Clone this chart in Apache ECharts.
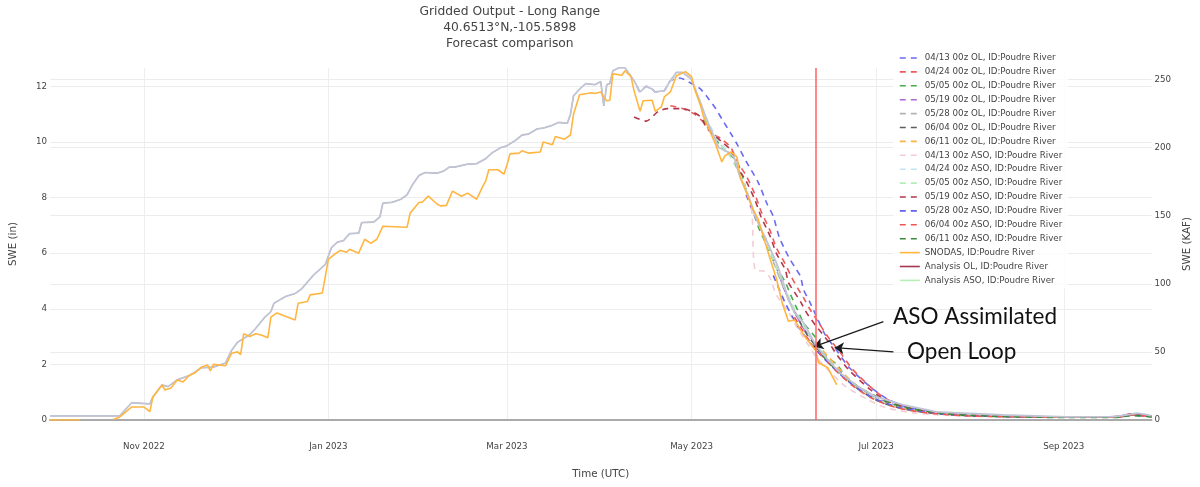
<!DOCTYPE html>
<html>
<head>
<meta charset="utf-8">
<script src="https://cdn.jsdelivr.net/npm/echarts@6/dist/echarts.min.js"></script>
<style>
  html, body { margin: 0; padding: 0; background: #fff; }
  #chart { width: 1200px; height: 487px; }
</style>
</head>
<body>
<div id="chart"></div>
<script>
// Water year 2023 snow water equivalent, Poudre River basin.
// Every series is a list of [day of water year (0 = 2022-10-01), SWE in inches].
const WY_START = Date.UTC(2022, 9, 1);
const DAY_MS = 86400000;

const xTickDates = ['2022-11-01', '2023-01-01', '2023-03-01', '2023-05-01', '2023-07-01', '2023-09-01'];
const monthNames = ['Jan','Feb','Mar','Apr','May','Jun','Jul','Aug','Sep','Oct','Nov','Dec'];
const currentDay = 253;      // 2023-06-11
const assimilationDay = 193; // open loop and ASO runs share history up to here

const snodas = [[0,0],[10,0],[11,null],[21,0.03],[23,0.1],[27,0.47],[31,0.47],[33,0.3],[34,0.83],[37,1.26],[38,1.08],[40,1.15],[42,1.44],[44,1.37],[46,1.6],[48,1.7],[50,1.9],[52,1.98],[53,1.77],[54,2.0],[58,1.95],[60,2.4],[62,2.45],[63,2.35],[64,3.1],[66,3.0],[68,3.1],[70,3.05],[72,2.96],[73,3.7],[75,3.85],[81,3.6],[82,4.2],[85,4.26],[86,4.5],[90,4.57],[92,5.78],[94,5.96],[96,6.1],[98,6.03],[99,6.14],[102,6.0],[104,6.5],[106,6.35],[108,6.5],[110,6.97],[118,6.93],[119,7.44],[122,7.83],[123,7.83],[125,8.05],[128,7.76],[129,7.7],[131,7.72],[133,8.23],[136,8.05],[138,8.16],[141,7.94],[143,8.4],[144,8.6],[145,9.0],[148,9.0],[150,8.84],[151,9.17],[152,9.57],[155,9.6],[156,9.68],[158,9.6],[162,9.64],[163,10.0],[166,9.9],[167,10.2],[170,10.1],[172,10.25],[173,11.0],[175,11.7],[179,11.77],[180,11.74],[182,11.8],[183,11.6],[184,11.48],[185,11.5],[186,12.45],[189,12.4],[190,12.56],[192,12.35],[193,11.84],[195,11.1],[196,11.48],[199,11.5],[200,11.1],[202,11.26],[203,11.62],[205,11.8],[207,12.38],[210,12.53],[212,12.35],[213,11.9],[215,11.3],[216,10.9],[218,10.4],[220,9.9],[222,9.28],[223,9.5],[225,9.64],[227,9.46],[228,8.77],[231,7.94],[232,7.65],[234,7.22],[236,6.5],[238,5.78],[240,5.1],[242,4.2],[244,3.55],[246,3.6],[249,3.07],[253,2.5],[254,2.06],[257,1.88],[260,1.26]];

const analysisAso = [[0,0.15],[23,0.15],[27,0.62],[33,0.58],[34,0.83],[37,1.26],[39,1.2],[42,1.44],[46,1.6],[48,1.73],[50,1.88],[54,1.9],[58,2.05],[60,2.5],[62,2.8],[66,3.07],[68,3.3],[71,3.7],[73,3.9],[74,4.2],[78,4.45],[81,4.55],[83,4.7],[85,4.95],[87,5.2],[90,5.5],[91,5.6],[93,6.2],[95,6.4],[97,6.45],[99,6.7],[102,6.72],[103,7.1],[107,7.12],[109,7.3],[110,7.8],[113,7.83],[116,7.94],[118,8.1],[120,8.5],[122,8.8],[124,8.9],[128,8.88],[130,8.95],[132,9.1],[134,9.1],[138,9.2],[141,9.22],[144,9.4],[146,9.6],[149,9.8],[151,9.86],[154,10.07],[156,10.25],[158,10.28],[161,10.47],[163,10.5],[166,10.6],[168,10.7],[171,10.68],[172,11.0],[173,11.66],[175,11.9],[177,12.1],[180,12.06],[182,12.17],[183,11.3],[184,12.06],[185,12.1],[186,12.56],[188,12.67],[190,12.67],[193,12.2],[195,11.8],[197,12.0],[199,11.9],[200,11.8],[203,11.85],[205,12.2],[207,12.5],[209,12.5],[212,12.25],[213,11.95],[215,11.4],[217,10.8],[221,9.8],[224,9.64],[226,9.46],[228,8.74],[231,8.0],[233,7.33],[235,6.86],[237,6.4],[240,5.67],[242,5.05],[244,4.33],[246,3.86],[249,3.5],[253,2.7],[257,2.17],[261,1.7],[267,1.2],[273,0.83],[282,0.54],[293,0.29],[315,0.18],[336,0.11],[352,0.12],[357,0.2],[359,0.25],[362,0.2],[364,0.15]];

// The open-loop analysis is identical to the ASO analysis until assimilation
const analysisOl = analysisAso.filter(([d]) => d <= assimilationDay);

// Open-loop forecasts
const ol0413 = [[194,12.0],[195,11.8],[197,12.0],[199,11.9],[200,11.8],[203,11.85],[205,12.2],[208,12.3],[212,12.1],[215,11.9],[218,11.5],[220,11.2],[222,10.83],[225,10.3],[227,9.93],[230,9.31],[234,8.55],[237,7.76],[239,7.33],[241,6.57],[244,5.88],[246,5.52],[248,5.16],[249,4.69],[251,4.26],[253,3.79],[256,3.1],[260,2.5],[264,1.9],[271,1.2],[276,0.8],[282,0.5],[291,0.3],[304,0.18],[336,0.11],[352,0.12],[358,0.22],[364,0.14]];
const ol0424 = [[205,11.3],[209,11.2],[213,11.0],[216,10.7],[219,10.3],[222,10.1],[225,9.8],[227,9.3],[230,8.8],[233,8.1],[235,7.5],[238,6.8],[240,6.2],[243,5.6],[245,5.15],[247,4.75],[249,4.4],[251,4.0],[254,3.5],[257,3.0],[261,2.45],[265,1.85],[271,1.2],[276,0.78],[282,0.5],[291,0.3],[304,0.18],[336,0.11],[352,0.12],[358,0.23],[364,0.14]];
const ol0505 = [[216,10.8],[222,9.8],[227,9.3],[230,8.3],[234,6.97],[237,6.25],[240,5.5],[243,4.95],[245,4.44],[247,3.97],[249,3.5],[253,2.96],[256,2.35],[260,2.0],[263,1.55],[267,1.2],[272,0.9],[276,0.65],[282,0.43],[288,0.3],[299,0.18],[336,0.1],[352,0.11],[358,0.2],[364,0.13]];
const ol0519 = [[230,8.1],[233,7.3],[237,6.4],[240,5.5],[243,4.6],[246,3.9],[249,3.3],[253,2.75],[257,2.2],[262,1.65],[268,1.1],[275,0.7],[282,0.45],[292,0.27],[310,0.16],[336,0.1],[352,0.11],[358,0.2],[364,0.13]];
const ol0528 = [[239,5.7],[243,4.6],[248,3.5],[253,2.7],[259,1.9],[265,1.3],[272,0.8],[279,0.5],[289,0.28],[305,0.15],[336,0.1],[352,0.11],[358,0.19],[364,0.12]];
const ol0604 = [[246,3.9],[250,3.1],[255,2.4],[260,1.8],[266,1.2],[273,0.72],[280,0.45],[290,0.26],[305,0.15],[336,0.1],[352,0.1],[358,0.18],[364,0.12]];
const ol0611 = [[253,2.8],[257,2.3],[262,1.7],[267,1.2],[273,0.75],[280,0.45],[290,0.26],[305,0.15],[336,0.1],[352,0.1],[358,0.18],[364,0.12]];

// ASO-assimilated forecasts
const aso0413 = [[194,12.0],[195,11.8],[197,12.0],[199,11.9],[200,11.8],[203,11.85],[205,12.2],[207,12.5],[209,12.5],[212,12.25],[213,11.95],[215,11.4],[217,10.8],[221,9.8],[224,9.64],[226,9.46],[228,8.74],[231,8.0],[232,7.4],[233,5.4],[236,5.35],[238,5.1],[240,4.5],[244,3.9],[247,3.3],[250,2.8],[253,2.3],[258,1.7],[263,1.2],[270,0.75],[276,0.45],[286,0.25],[303,0.14],[336,0.1],[352,0.1],[358,0.18],[364,0.12]];
const aso0424 = [[205,12.2],[209,12.5],[212,12.25],[215,11.4],[218,10.6],[222,9.9],[226,9.5],[229,8.6],[232,7.7],[235,6.9],[238,6.1],[241,5.3],[244,4.4],[247,3.75],[250,3.2],[254,2.6],[258,2.05],[263,1.5],[269,1.0],[276,0.62],[284,0.38],[295,0.22],[315,0.14],[336,0.1],[352,0.11],[358,0.19],[364,0.13]];
const aso0505 = [[216,10.9],[220,10.1],[224,9.6],[228,8.8],[231,8.0],[234,7.1],[237,6.3],[240,5.5],[243,4.7],[246,4.0],[249,3.4],[253,2.75],[257,2.2],[262,1.6],[268,1.05],[275,0.65],[283,0.4],[294,0.23],[315,0.14],[336,0.1],[352,0.11],[358,0.19],[364,0.13]];
const aso0519 = [[193,10.9],[197,10.75],[201,11.1],[204,11.2],[209,11.2],[212,11.1],[215,10.9],[217,10.5],[220,10.2],[222,10.0],[225,9.7],[227,9.1],[230,8.6],[233,7.9],[235,7.3],[238,6.6],[240,6.0],[243,5.4],[244,4.95],[246,4.6],[248,4.26],[250,3.86],[253,3.4],[257,2.85],[260,2.35],[264,1.8],[271,1.1],[276,0.72],[282,0.47],[291,0.28],[304,0.17],[336,0.11],[352,0.12],[358,0.22],[364,0.14]];
const aso0528 = [[239,5.2],[243,4.2],[247,3.4],[251,2.8],[255,2.3],[260,1.75],[266,1.2],[272,0.8],[280,0.47],[290,0.27],[305,0.15],[336,0.1],[352,0.1],[358,0.18],[364,0.12]];
const aso0604 = [[246,3.7],[250,3.0],[254,2.45],[259,1.85],[265,1.25],[271,0.82],[278,0.5],[288,0.28],[303,0.15],[336,0.1],[352,0.1],[358,0.18],[364,0.12]];
const aso0611 = [[253,2.65],[257,2.1],[262,1.6],[267,1.2],[272,0.9],[278,0.6],[285,0.4],[294,0.25],[305,0.16],[336,0.09],[352,0.09],[358,0.16],[364,0.11]];

// Annotation arrows: [tail, head] in [day, SWE]
const asoArrow = [[275.4, 3.54], [252.5, 2.64]];
const olArrow  = [[278.7, 2.45], [259.3, 2.6]];

const FONT = 'DejaVu Sans';
const toTime = d => WY_START + d * DAY_MS;
const toPoints = rows => rows.map(([d, v]) => [toTime(d), v]);
const tickTimes = xTickDates.map(s => Date.parse(s + 'T00:00:00Z'));

const DASH = [6, 5];
function forecast(name, rows, color) {
  return {
    name, type: 'line', data: toPoints(rows), symbol: 'none', smooth: 0.25,
    lineStyle: { color, width: 1.6, type: DASH }, itemStyle: { color },
    emphasis: { disabled: true }
  };
}

const series = [
  forecast('04/13 00z OL, ID:Poudre River', ol0413, '#6b6bf2'),
  forecast('04/24 00z OL, ID:Poudre River', ol0424, '#ef5a5a'),
  forecast('05/05 00z OL, ID:Poudre River', ol0505, '#4cab4c'),
  forecast('05/19 00z OL, ID:Poudre River', ol0519, '#b066d6'),
  forecast('05/28 00z OL, ID:Poudre River', ol0528, '#b4b4b4'),
  forecast('06/04 00z OL, ID:Poudre River', ol0604, '#5e5e5e'),
  forecast('06/11 00z OL, ID:Poudre River', ol0611, '#ffb347'),
  forecast('04/13 00z ASO, ID:Poudre River', aso0413, '#f3cdd4'),
  forecast('04/24 00z ASO, ID:Poudre River', aso0424, '#c4e4f3'),
  forecast('05/05 00z ASO, ID:Poudre River', aso0505, '#b6eeb6'),
  forecast('05/19 00z ASO, ID:Poudre River', aso0519, '#b3384c'),
  forecast('05/28 00z ASO, ID:Poudre River', aso0528, '#6161f0'),
  forecast('06/04 00z ASO, ID:Poudre River', aso0604, '#f05555'),
  forecast('06/11 00z ASO, ID:Poudre River', aso0611, '#3c8a3c'),
  {
    name: 'SNODAS, ID:Poudre River', type: 'line', data: toPoints(snodas), symbol: 'none',
    lineStyle: { color: '#ffb640', width: 1.6 }, itemStyle: { color: '#ffb640' }, z: 4,
    emphasis: { disabled: true }
  },
  {
    name: 'Analysis OL, ID:Poudre River', type: 'line', data: toPoints(analysisOl), symbol: 'none',
    lineStyle: { color: '#a3384f', width: 0.8 }, itemStyle: { color: '#a3384f' }, z: 1,
    emphasis: { disabled: true },
    markLine: {
      silent: true, symbol: ['none', 'arrow'], symbolSize: 9, animation: false,
      label: { show: false },
      lineStyle: { color: '#1a1a1a', width: 1.2, type: 'solid' },
      data: [
        [{ coord: [toTime(asoArrow[0][0]), asoArrow[0][1]] }, { coord: [toTime(asoArrow[1][0]), asoArrow[1][1]] }],
        [{ coord: [toTime(olArrow[0][0]), olArrow[0][1]] }, { coord: [toTime(olArrow[1][0]), olArrow[1][1]] }]
      ]
    }
  },
  {
    name: 'Analysis ASO, ID:Poudre River', type: 'line', data: toPoints(analysisAso), symbol: 'none',
    lineStyle: { color: '#c0c5d5', width: 1.8 }, itemStyle: { color: '#c0c5d5' }, z: 3,
    emphasis: { disabled: true },
    markLine: {
      silent: true, symbol: 'none', animation: false, label: { show: false },
      lineStyle: { color: '#ff6a6a', width: 1.6, type: 'solid' },
      data: [{ xAxis: toTime(currentDay) }]
    }
  }
];

const legendData = series.map(s => {
  if (s.name.startsWith('Analysis ASO')) {
    return { name: s.name, lineStyle: { color: '#b6eeb6' } };
  }
  if (s.name.startsWith('Analysis OL')) {
    return { name: s.name, lineStyle: { width: 1.6 } };
  }
  return { name: s.name };
});

const chart = echarts.init(document.getElementById('chart'), null, { renderer: 'canvas' });
chart.setOption({
  animation: false,
  backgroundColor: '#fff',
  title: {
    text: 'Gridded Output - Long Range\n40.6513°N,-105.5898\nForecast comparison',
    left: 'center', top: -1,
    textStyle: { fontFamily: FONT, fontSize: 12.3, fontWeight: 'normal', color: '#444', lineHeight: 16, align: 'center' },
    textAlign: 'center'
  },
  legend: {
    orient: 'vertical', left: 893, top: 50,
    itemWidth: 20, itemHeight: 10, itemGap: 3.9,
    padding: [3, 6, 3, 6],
    backgroundColor: 'rgba(255,255,255,0.85)',
    itemStyle: { opacity: 0 },
    lineStyle: { width: 1.6 },
    textStyle: { fontFamily: FONT, fontSize: 8.7, color: '#444', lineHeight: 10 },
    data: legendData
  },
  grid: { left: 47, right: 42, top: 68, bottom: 67 },
  xAxis: {
    type: 'value',
    min: WY_START, max: toTime(364),
    name: 'Time (UTC)', nameLocation: 'middle', nameGap: 49,
    nameTextStyle: { fontFamily: FONT, fontSize: 10.3, color: '#444' },
    axisLine: { show: true, onZero: false, lineStyle: { color: '#aaa', width: 2 } },
    axisTick: { show: false, customValues: tickTimes },
    axisLabel: {
      customValues: tickTimes, margin: 22,
      fontFamily: FONT, fontSize: 8.7, color: '#444',
      formatter: v => { const d = new Date(v); return monthNames[d.getUTCMonth()] + ' ' + d.getUTCFullYear(); }
    },
    splitLine: { show: true, lineStyle: { color: '#eeeeee', width: 1 } }
  },
  yAxis: [
    {
      type: 'value', min: 0, max: 12.66, interval: 2, position: 'left',
      name: 'SWE (in)', nameLocation: 'middle', nameGap: 32, nameRotate: 90,
      nameTextStyle: { fontFamily: FONT, fontSize: 10.3, color: '#444' },
      axisLine: { show: false }, axisTick: { show: false },
      axisLabel: { fontFamily: FONT, fontSize: 8.7, color: '#444', margin: 3, showMaxLabel: false },
      splitLine: { show: true, showMaxLine: false, lineStyle: { color: '#ececec', width: 1 } }
    },
    {
      type: 'value', min: 0, max: 258.4, interval: 50, position: 'right',
      name: 'SWE (KAF)', nameLocation: 'middle', nameGap: 30, nameRotate: 90,
      nameTextStyle: { fontFamily: FONT, fontSize: 10.3, color: '#444' },
      axisLine: { show: false }, axisTick: { show: false },
      axisLabel: { fontFamily: FONT, fontSize: 8.7, color: '#444', margin: 3, showMaxLabel: false },
      splitLine: { show: true, showMaxLine: false, lineStyle: { color: '#ececec', width: 1 } }
    }
  ],
  graphic: [
    { type: 'text', x: 893, y: 317, z: 100,
      style: { text: 'ASO Assimilated', font: '22.5px Lato', fill: '#111', verticalAlign: 'middle' } },
    { type: 'text', x: 907, y: 352, z: 100,
      style: { text: 'Open Loop', font: '22.5px Lato', fill: '#111', verticalAlign: 'middle' } }
  ],
  series
});
</script>
</body>
</html>
